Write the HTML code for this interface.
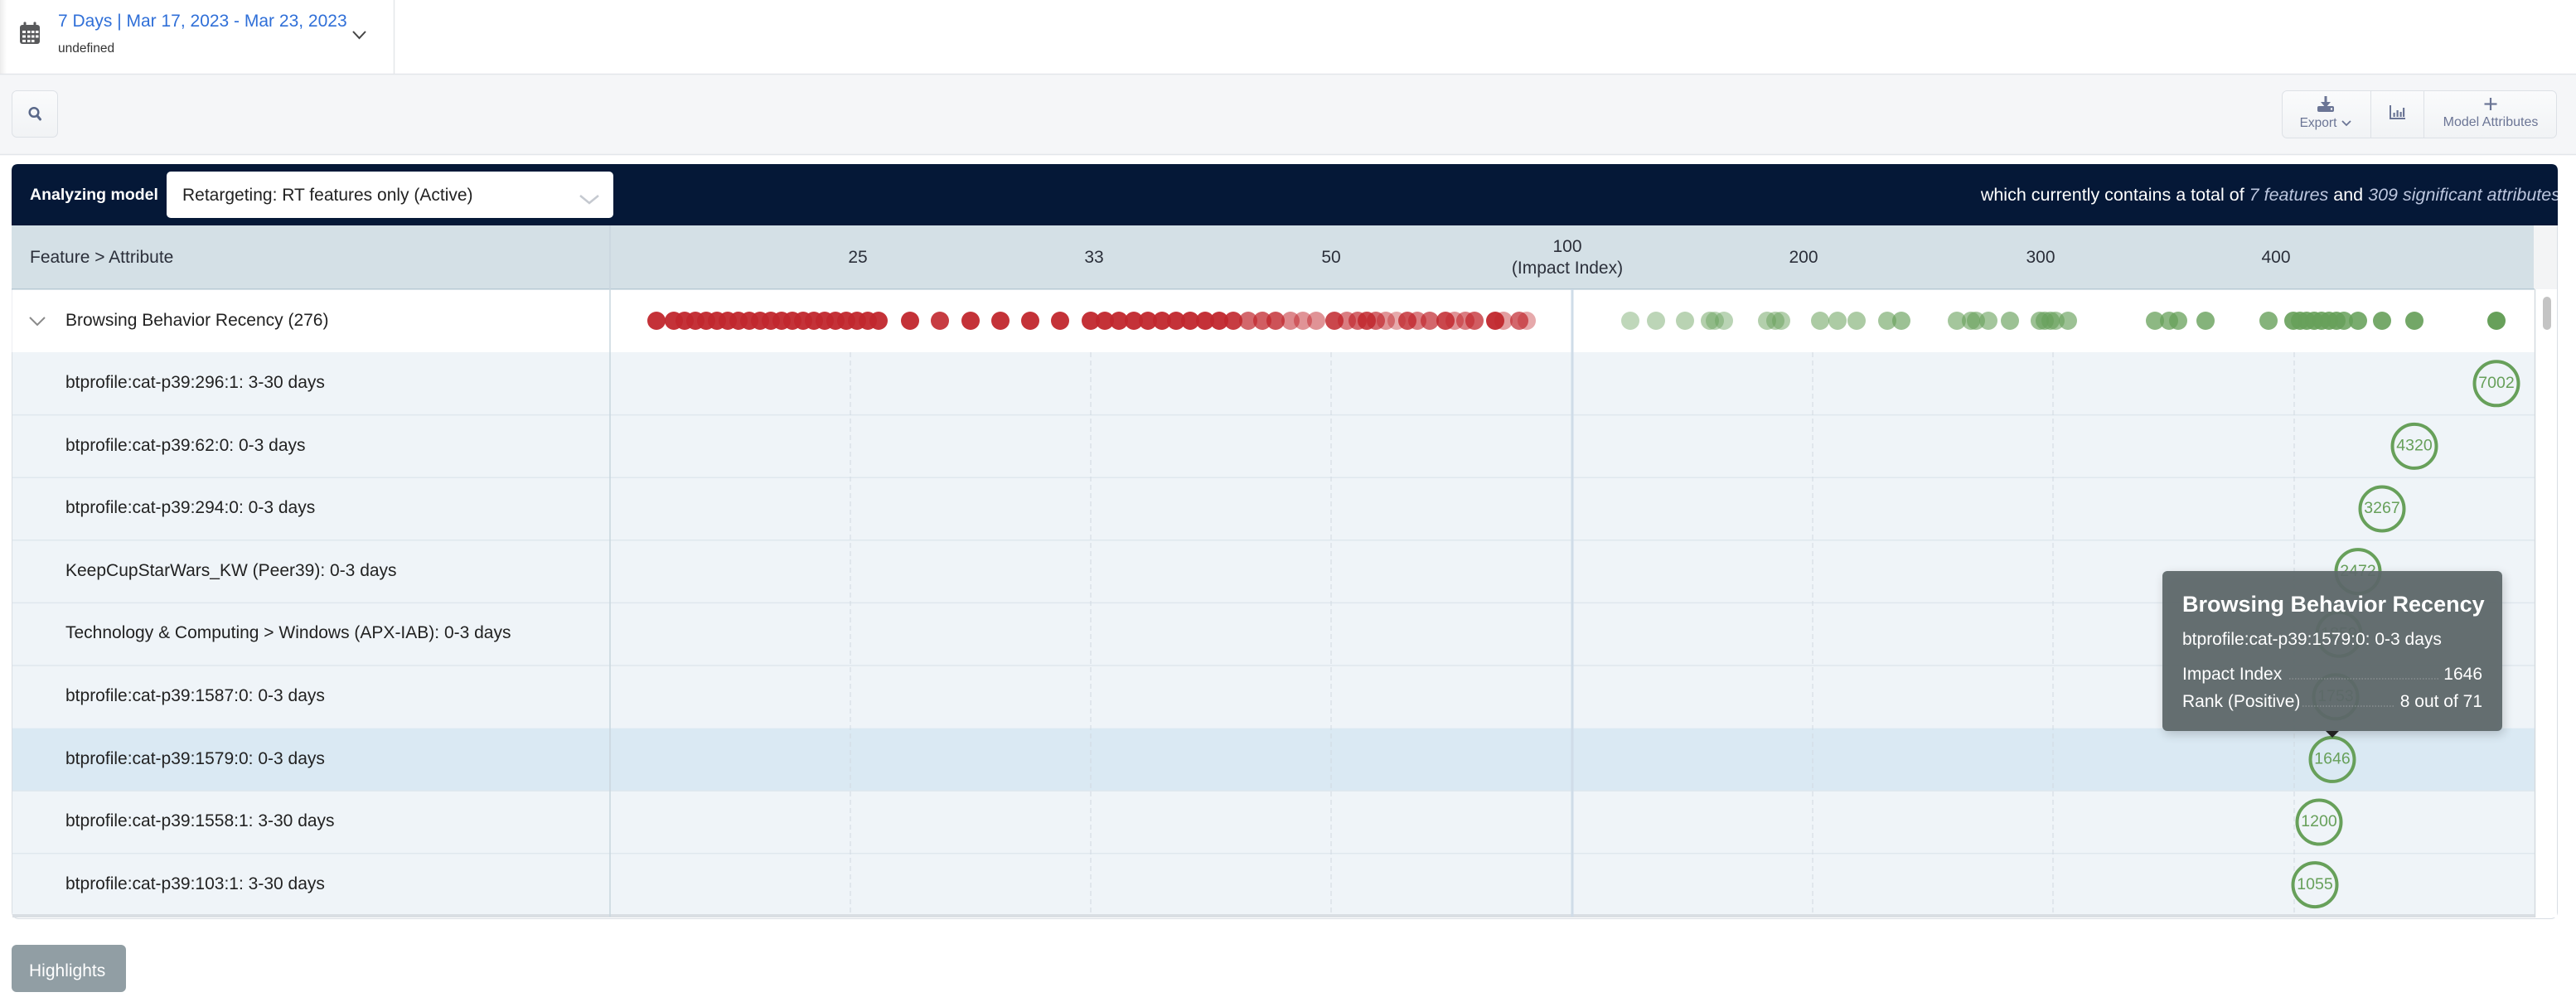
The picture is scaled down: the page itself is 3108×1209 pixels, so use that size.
<!DOCTYPE html>
<html>
<head>
<meta charset="utf-8">
<style>
html,body{margin:0;padding:0;background:#fff;}
body{width:3108px;height:1209px;overflow:hidden;position:relative;}
svg{position:absolute;left:0;top:0;display:block;}
text{font-family:"Liberation Sans",Arial,sans-serif;}
</style>
</head>
<body>
<svg width="3108" height="1209" viewBox="0 0 3108 1209" xmlns="http://www.w3.org/2000/svg">
<defs>
  <clipPath id="barclip"><rect x="14" y="198" width="3072" height="74"/></clipPath>
  <filter id="tshadow" x="-10%" y="-10%" width="120%" height="130%">
    <feGaussianBlur stdDeviation="6"/>
  </filter>
  <linearGradient id="btnG" x1="0" y1="0" x2="0" y2="1">
    <stop offset="0" stop-color="#fafbfc"/><stop offset="1" stop-color="#f1f3f5"/>
  </linearGradient>
  <linearGradient id="leftShade" x1="0" y1="0" x2="1" y2="0">
    <stop offset="0" stop-color="#ececec"/><stop offset="1" stop-color="#ffffff"/>
  </linearGradient>
</defs>

<!-- page background -->
<rect x="0" y="0" width="3108" height="1209" fill="#ffffff"/>

<!-- top bar -->
<rect x="0" y="0" width="8" height="89" fill="url(#leftShade)"/>
<line x1="475.5" y1="0" x2="475.5" y2="89" stroke="#e4e7ea" stroke-width="1.5"/>
<!-- calendar icon -->
<rect x="24" y="30" width="24" height="23" rx="3" fill="#58595b"/>
<rect x="28.5" y="26.5" width="3" height="6" rx="1" fill="#58595b"/>
<rect x="40.5" y="26.5" width="3" height="6" rx="1" fill="#58595b"/>
<g fill="#ffffff">
  <rect x="27" y="37" width="4" height="3"/><rect x="33" y="37" width="3.5" height="3"/><rect x="38" y="37" width="3.5" height="3"/><rect x="43" y="37" width="3.5" height="3"/>
  <rect x="27" y="42.5" width="4" height="3"/><rect x="33" y="42.5" width="3.5" height="3"/><rect x="38" y="42.5" width="3.5" height="3"/><rect x="43" y="42.5" width="3.5" height="3"/>
  <rect x="27" y="48" width="4" height="3"/><rect x="33" y="48" width="3.5" height="3"/><rect x="38" y="48" width="3.5" height="3"/>
</g>
<text x="70" y="32" font-size="21" fill="#2f6fd8">7 Days | Mar 17, 2023 - Mar 23, 2023</text>
<text x="70" y="63" font-size="15.5" fill="#333333">undefined</text>
<polyline points="426,38 433.5,46 441,38" fill="none" stroke="#444" stroke-width="2"/>

<!-- gray toolbar band -->
<rect x="0" y="89" width="3108" height="97" fill="#f5f6f8"/>
<line x1="0" y1="89.5" x2="3108" y2="89.5" stroke="#e3e6ea" stroke-width="1.5"/>
<line x1="0" y1="186.5" x2="3108" y2="186.5" stroke="#e3e6ea" stroke-width="1.5"/>
<!-- search button -->
<rect x="14.5" y="109.5" width="55" height="56" rx="6" fill="url(#btnG)" stroke="#dde1e6"/>
<circle cx="41" cy="135.5" r="5.3" fill="none" stroke="#5a6889" stroke-width="2.5"/>
<line x1="44.8" y1="139.5" x2="48.5" y2="144" stroke="#5a6889" stroke-width="3" stroke-linecap="round"/>
<!-- export group -->
<rect x="2753.5" y="109.5" width="331" height="57" rx="6" fill="url(#btnG)" stroke="#dde1e6"/>
<line x1="2860.5" y1="110" x2="2860.5" y2="166" stroke="#dde1e6"/>
<line x1="2924.5" y1="110" x2="2924.5" y2="166" stroke="#dde1e6"/>
<!-- export icon -->
<g fill="#6b7595" stroke="none">
  <rect x="2804.5" y="116" width="3" height="9"/>
  <polygon points="2800,123 2812,123 2806,130"/>
  <rect x="2796" y="128" width="20" height="7" rx="2"/>
</g>
<circle cx="2813" cy="131.5" r="1.2" fill="#ffffff"/>
<text x="2797" y="153" font-size="15.5" fill="#6b7595" text-anchor="middle">Export</text>
<polyline points="2826,146 2831,151 2836,146" fill="none" stroke="#6b7595" stroke-width="1.8"/>
<!-- chart icon -->
<g fill="none" stroke="#6b7595" stroke-width="2">
  <polyline points="2884,127 2884,143 2902,143"/>
</g>
<g fill="#6b7595">
  <rect x="2887.5" y="136" width="2.2" height="5"/>
  <rect x="2891.5" y="133" width="2.2" height="8"/>
  <rect x="2895.5" y="135" width="2.2" height="6"/>
  <rect x="2899" y="130" width="2.2" height="11"/>
</g>
<!-- plus + model attributes -->
<line x1="3005" y1="118" x2="3005" y2="133" stroke="#6b7595" stroke-width="2.2"/>
<line x1="2997.5" y1="125.5" x2="3012.5" y2="125.5" stroke="#6b7595" stroke-width="2.2"/>
<text x="3005" y="152" font-size="16" fill="#6b7595" text-anchor="middle">Model Attributes</text>

<!-- table container -->
<rect x="14.5" y="198.5" width="3071" height="910" rx="8" fill="#ffffff" stroke="#d9dee4"/>

<!-- dark bar -->
<path d="M14,272 L14,206 Q14,198 22,198 L3078,198 Q3086,198 3086,206 L3086,272 Z" fill="#051837"/>
<text x="36" y="241" font-size="19.5" font-weight="bold" fill="#ffffff">Analyzing model</text>
<rect x="201" y="207" width="539" height="56" rx="5" fill="#ffffff"/>
<text x="220" y="242" font-size="21" fill="#222222">Retargeting: RT features only (Active)</text>
<polyline points="700,236 711,245 722,236" fill="none" stroke="#c5c9d0" stroke-width="2.5"/>
<g clip-path="url(#barclip)">
<text x="3089" y="242" font-size="21.5" fill="#ffffff" text-anchor="end">which currently contains a total of <tspan font-style="italic" fill="#bcc6de">7 features</tspan> and <tspan font-style="italic" fill="#bcc6de">309 significant attributes</tspan></text>
</g>

<!-- header row -->
<rect x="14" y="272" width="3043" height="77" fill="#d4e0e6"/>
<rect x="3057" y="272" width="28" height="77" fill="#f3f4f5"/>
<line x1="14" y1="349" x2="3058" y2="349" stroke="#aec3cf" stroke-width="1.5"/>
<text x="36" y="317" font-size="21" fill="#2b2f3a">Feature &gt; Attribute</text>
<g font-size="21" fill="#2b2f3a" text-anchor="middle">
  <text x="1035" y="317">25</text>
  <text x="1320" y="317">33</text>
  <text x="1606" y="317">50</text>
  <text x="1891" y="304">100</text>
  <text x="1891" y="330">(Impact Index)</text>
  <text x="2176" y="317">200</text>
  <text x="2462" y="317">300</text>
  <text x="2746" y="317">400</text>
</g>

<!-- body rows -->
<rect x="14.5" y="349.5" width="3043.5" height="75.5" fill="#ffffff"/>
<g>
  <rect x="15" y="425" width="3043" height="75.6" fill="#eff4f8"/>
  <rect x="15" y="500.6" width="3043" height="75.6" fill="#eff4f8"/>
  <rect x="15" y="576.2" width="3043" height="75.6" fill="#eff4f8"/>
  <rect x="15" y="651.8" width="3043" height="75.6" fill="#eff4f8"/>
  <rect x="15" y="727.4" width="3043" height="75.6" fill="#eff4f8"/>
  <rect x="15" y="803" width="3043" height="75.6" fill="#eff4f8"/>
  <rect x="15" y="878.6" width="3043" height="75.6" fill="#dae9f3"/>
  <rect x="15" y="954.2" width="3043" height="75.6" fill="#eff4f8"/>
  <rect x="15" y="1029.8" width="3043" height="75.6" fill="#eff4f8"/>
</g>
<g stroke="#dfe7ee" stroke-width="1.5">
  <line x1="15" y1="500.6" x2="3058" y2="500.6"/>
  <line x1="15" y1="576.2" x2="3058" y2="576.2"/>
  <line x1="15" y1="651.8" x2="3058" y2="651.8"/>
  <line x1="15" y1="727.4" x2="3058" y2="727.4"/>
  <line x1="15" y1="803" x2="3058" y2="803"/>
  <line x1="15" y1="954.2" x2="3058" y2="954.2"/>
  <line x1="15" y1="1029.8" x2="3058" y2="1029.8"/>
</g>
<rect x="15" y="1103" width="3043" height="4" fill="#d9dee3"/>

<!-- grid lines -->
<g stroke="#d0d9e1" stroke-width="1" stroke-dasharray="6 4">
  <line x1="1026" y1="425" x2="1026" y2="1103"/>
  <line x1="1316" y1="425" x2="1316" y2="1103"/>
  <line x1="1606" y1="425" x2="1606" y2="1103"/>
  <line x1="2187" y1="425" x2="2187" y2="1103"/>
  <line x1="2477" y1="425" x2="2477" y2="1103"/>
  <line x1="2768" y1="425" x2="2768" y2="1103"/>
</g>
<line x1="1897" y1="349" x2="1897" y2="1106" stroke="#cfdce8" stroke-width="3"/>
<line x1="736" y1="272" x2="736" y2="1106" stroke="#c9d6de" stroke-width="1.5"/>

<!-- right gutter -->
<rect x="3058.5" y="350" width="26.5" height="757" fill="#ffffff"/>
<line x1="3058.5" y1="349" x2="3058.5" y2="1107" stroke="#d5dbe0" stroke-width="1.5"/>
<rect x="3068" y="358" width="10" height="40" rx="5" fill="#c4c4c4"/>

<!-- row labels -->
<polyline points="36,383 45,392 54,383" fill="none" stroke="#8a8a8a" stroke-width="2"/>
<g font-size="21" fill="#222222">
  <text x="79" y="393">Browsing Behavior Recency (276)</text>
  <text x="79" y="468">btprofile:cat-p39:296:1: 3-30 days</text>
  <text x="79" y="544">btprofile:cat-p39:62:0: 0-3 days</text>
  <text x="79" y="619">btprofile:cat-p39:294:0: 0-3 days</text>
  <text x="79" y="695">KeepCupStarWars_KW (Peer39): 0-3 days</text>
  <text x="79" y="770">Technology &amp; Computing &gt; Windows (APX-IAB): 0-3 days</text>
  <text x="79" y="846">btprofile:cat-p39:1587:0: 0-3 days</text>
  <text x="79" y="922">btprofile:cat-p39:1579:0: 0-3 days</text>
  <text x="79" y="997">btprofile:cat-p39:1558:1: 3-30 days</text>
  <text x="79" y="1073">btprofile:cat-p39:103:1: 3-30 days</text>
</g>

<!-- red dots -->
<g fill="#c1272d">
  <circle cx="792" cy="387" r="11" opacity="0.95"/>
  <circle cx="813" cy="387" r="11" opacity="0.95"/><circle cx="826" cy="387" r="11" opacity="0.95"/><circle cx="839" cy="387" r="11" opacity="0.95"/><circle cx="852" cy="387" r="11" opacity="0.95"/><circle cx="865" cy="387" r="11" opacity="0.95"/><circle cx="878" cy="387" r="11" opacity="0.95"/><circle cx="891" cy="387" r="11" opacity="0.95"/><circle cx="904" cy="387" r="11" opacity="0.95"/><circle cx="917" cy="387" r="11" opacity="0.95"/><circle cx="930" cy="387" r="11" opacity="0.95"/><circle cx="943" cy="387" r="11" opacity="0.95"/><circle cx="956" cy="387" r="11" opacity="0.95"/><circle cx="969" cy="387" r="11" opacity="0.95"/><circle cx="982" cy="387" r="11" opacity="0.95"/><circle cx="995" cy="387" r="11" opacity="0.95"/><circle cx="1008" cy="387" r="11" opacity="0.95"/><circle cx="1021" cy="387" r="11" opacity="0.95"/><circle cx="1034" cy="387" r="11" opacity="0.95"/><circle cx="1047" cy="387" r="11" opacity="0.95"/><circle cx="1060" cy="387" r="11" opacity="0.95"/>
  <circle cx="1098" cy="387" r="11" opacity="0.95"/><circle cx="1134" cy="387" r="11" opacity="0.9"/><circle cx="1171" cy="387" r="11" opacity="0.95"/><circle cx="1207" cy="387" r="11" opacity="0.95"/><circle cx="1243" cy="387" r="11" opacity="0.95"/><circle cx="1279" cy="387" r="11" opacity="0.95"/>
  <circle cx="1316" cy="387" r="11" opacity="0.95"/><circle cx="1333" cy="387" r="11" opacity="0.95"/><circle cx="1350" cy="387" r="11" opacity="0.95"/><circle cx="1368" cy="387" r="11" opacity="0.95"/><circle cx="1385" cy="387" r="11" opacity="0.95"/><circle cx="1402" cy="387" r="11" opacity="0.95"/><circle cx="1419" cy="387" r="11" opacity="0.95"/><circle cx="1436" cy="387" r="11" opacity="0.95"/><circle cx="1454" cy="387" r="11" opacity="0.95"/><circle cx="1471" cy="387" r="11" opacity="0.95"/><circle cx="1488" cy="387" r="11" opacity="0.9"/>
  <circle cx="1506" cy="387" r="11" opacity="0.7"/><circle cx="1523" cy="387" r="11" opacity="0.75"/><circle cx="1539" cy="387" r="11" opacity="0.8"/><circle cx="1557" cy="387" r="11" opacity="0.55"/><circle cx="1572" cy="387" r="11" opacity="0.5"/><circle cx="1588" cy="387" r="11" opacity="0.5"/>
  <circle cx="1610" cy="387" r="11" opacity="0.85"/><circle cx="1625" cy="387" r="11" opacity="0.6"/><circle cx="1638" cy="387" r="11" opacity="0.7"/><circle cx="1649" cy="387" r="11" opacity="0.85"/><circle cx="1660" cy="387" r="11" opacity="0.7"/><circle cx="1672" cy="387" r="11" opacity="0.5"/><circle cx="1685" cy="387" r="11" opacity="0.4"/>
  <circle cx="1698" cy="387" r="11" opacity="0.8"/><circle cx="1710" cy="387" r="11" opacity="0.6"/><circle cx="1725" cy="387" r="11" opacity="0.7"/><circle cx="1744" cy="387" r="11" opacity="0.85"/><circle cx="1755" cy="387" r="11" opacity="0.5"/><circle cx="1768" cy="387" r="11" opacity="0.6"/><circle cx="1779" cy="387" r="11" opacity="0.75"/>
  <circle cx="1804" cy="387" r="11" opacity="0.95"/><circle cx="1814" cy="387" r="11" opacity="0.45"/><circle cx="1833" cy="387" r="11" opacity="0.7"/><circle cx="1842" cy="387" r="11" opacity="0.4"/>
</g>

<!-- green dots -->
<g fill="#67a05a">
  <circle cx="1967" cy="387" r="11" opacity="0.42"/><circle cx="1998" cy="387" r="11" opacity="0.44"/><circle cx="2033" cy="387" r="11" opacity="0.46"/><circle cx="2063" cy="387" r="11" opacity="0.5"/><circle cx="2069" cy="387" r="11" opacity="0.45"/><circle cx="2080" cy="387" r="11" opacity="0.45"/>
  <circle cx="2132" cy="387" r="11" opacity="0.5"/><circle cx="2142" cy="387" r="11" opacity="0.5"/><circle cx="2149" cy="387" r="11" opacity="0.5"/>
  <circle cx="2196" cy="387" r="11" opacity="0.55"/><circle cx="2217" cy="387" r="11" opacity="0.55"/><circle cx="2240" cy="387" r="11" opacity="0.55"/>
  <circle cx="2277" cy="387" r="11" opacity="0.6"/><circle cx="2294" cy="387" r="11" opacity="0.65"/>
  <circle cx="2361" cy="387" r="11" opacity="0.6"/><circle cx="2378" cy="387" r="11" opacity="0.6"/><circle cx="2384" cy="387" r="11" opacity="0.6"/><circle cx="2399" cy="387" r="11" opacity="0.6"/><circle cx="2425" cy="387" r="11" opacity="0.65"/>
  <circle cx="2461" cy="387" r="11" opacity="0.65"/><circle cx="2467" cy="387" r="11" opacity="0.65"/><circle cx="2474" cy="387" r="11" opacity="0.65"/><circle cx="2480" cy="387" r="11" opacity="0.6"/><circle cx="2495" cy="387" r="11" opacity="0.65"/>
  <circle cx="2600" cy="387" r="11" opacity="0.75"/><circle cx="2617" cy="387" r="11" opacity="0.75"/><circle cx="2628" cy="387" r="11" opacity="0.75"/><circle cx="2661" cy="387" r="11" opacity="0.8"/>
  <circle cx="2737" cy="387" r="11" opacity="0.8"/>
  <circle cx="2767" cy="387" r="11" opacity="0.9"/><circle cx="2775" cy="387" r="11" opacity="0.9"/><circle cx="2783" cy="387" r="11" opacity="0.9"/><circle cx="2792" cy="387" r="11" opacity="0.9"/><circle cx="2801" cy="387" r="11" opacity="0.9"/><circle cx="2810" cy="387" r="11" opacity="0.9"/><circle cx="2819" cy="387" r="11" opacity="0.9"/><circle cx="2828" cy="387" r="11" opacity="0.85"/>
  <circle cx="2845" cy="387" r="11" opacity="0.88"/><circle cx="2874" cy="387" r="11" opacity="0.9"/><circle cx="2913" cy="387" r="11" opacity="0.92"/><circle cx="3012" cy="387" r="11" opacity="1"/>
</g>

<!-- bubbles -->
<g fill="none" stroke="#67a05a" stroke-width="4">
  <circle cx="3012" cy="462.8" r="26.5"/>
  <circle cx="2913" cy="538.4" r="26.5"/>
  <circle cx="2874" cy="614" r="26.5"/>
  <circle cx="2845" cy="689.6" r="26.5"/>
  <circle cx="2822" cy="765.2" r="26.5"/>
  <circle cx="2818" cy="840.8" r="26.5"/>
  <circle cx="2814" cy="916.4" r="26.5"/>
  <circle cx="2798" cy="992" r="26.5"/>
  <circle cx="2793" cy="1067.6" r="26.5"/>
</g>
<g font-size="19.5" fill="#67a05a" text-anchor="middle">
  <text x="3012" y="468">7002</text>
  <text x="2913" y="543.6">4320</text>
  <text x="2874" y="619.2">3267</text>
  <text x="2845" y="694.8">2472</text>
  <text x="2822" y="770.4">1859</text>
  <text x="2818" y="846">1753</text>
  <text x="2814" y="921.6">1646</text>
  <text x="2798" y="997.2">1200</text>
  <text x="2793" y="1072.8">1055</text>
</g>

<!-- tooltip -->
<rect x="2611" y="693" width="410" height="193" rx="6" fill="#000000" opacity="0.18" filter="url(#tshadow)"/>
<rect x="2609" y="689" width="410" height="193" rx="6" fill="#5d686a" opacity="0.94"/>
<polygon points="2806,882 2822,882 2814,890" fill="#222222"/>
<text x="2633" y="738" font-size="27" font-weight="bold" fill="#ffffff">Browsing Behavior Recency</text>
<text x="2633" y="778" font-size="21" fill="#ffffff">btprofile:cat-p39:1579:0: 0-3 days</text>
<text x="2633" y="820" font-size="21" fill="#ffffff">Impact Index</text>
<text x="2995" y="820" font-size="21" fill="#ffffff" text-anchor="end">1646</text>
<text x="2633" y="853" font-size="21" fill="#ffffff">Rank (Positive)</text>
<text x="2995" y="853" font-size="21" fill="#ffffff" text-anchor="end">8 out of 71</text>
<line x1="2762" y1="819" x2="2942" y2="819" stroke="#ffffff" stroke-opacity="0.35" stroke-width="1" stroke-dasharray="1.5 2"/>
<line x1="2778" y1="852" x2="2890" y2="852" stroke="#ffffff" stroke-opacity="0.35" stroke-width="1" stroke-dasharray="1.5 2"/>

<!-- Highlights button -->
<rect x="14" y="1140" width="138" height="57" rx="6" fill="#919ea4"/>
<text x="35" y="1178" font-size="21" fill="#ffffff">Highlights</text>
</svg>
</body>
</html>
